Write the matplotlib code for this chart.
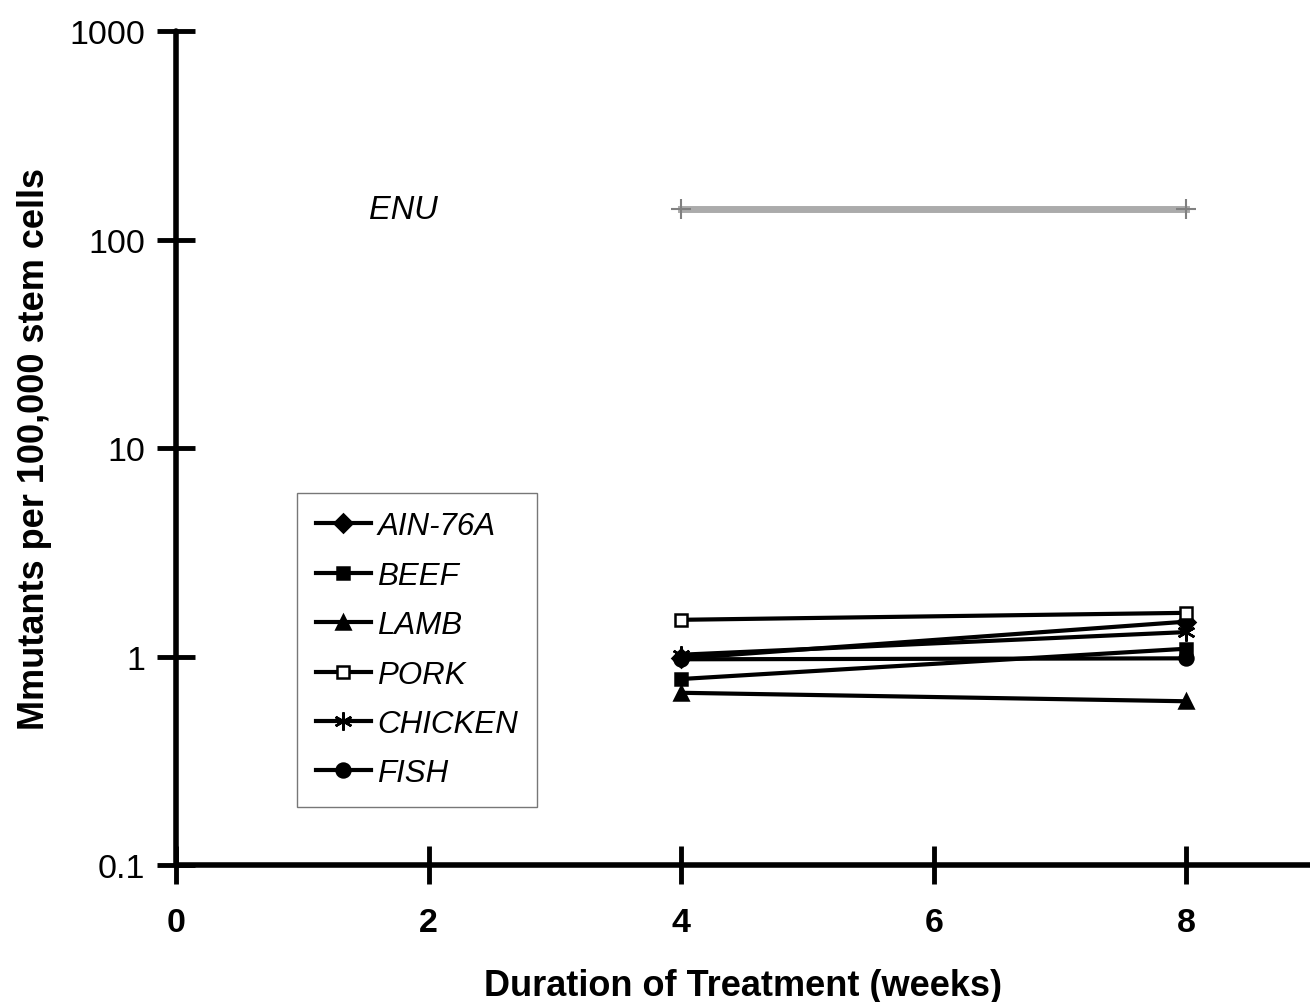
import matplotlib.pyplot as plt
import numpy as np

plt.rcParams['font.family'] = ['Liberation Sans', 'DejaVu Sans']

# Data
weeks = [4, 8]
series = ['AIN-76A', 'BEEF', 'LAMB', 'PORK', 'CHICKEN', 'FISH']
ain76a = [0.98, 1.47]
beef = [0.78, 1.09]
lamb = [0.67, 0.61]
pork = [1.50, 1.62]
chicken = [1.02, 1.31]
fish = [0.97, 0.98]
enu = [140, 140]

values = [ain76a, beef, lamb, pork, chicken, fish]
markers = ['D', 's', '^', 's', (6, 2, 0), 'o']
faces = ['black', 'black', 'black', 'white', 'black', 'black']
msizes = [9, 9, 10, 9, 13, 10]

x_ticks = [0, 2, 4, 6, 8]
y_ticks = [0.1, 1, 10, 100, 1000]
y_labels = ['0.1', '1', '10', '100', '1000']

fig = plt.figure(figsize=(13.1, 10.03), dpi=100)
ax = fig.add_axes([0.1344, 0.1366, 0.8656, 0.8314])

ax.plot(weeks, enu, color='#ababab', lw=5, marker='+', ms=14, mew=1.5,
        mec='#808080', zorder=2)

for name, vals, m, fc, ms in zip(series, values, markers, faces, msizes):
    ax.plot(weeks, vals, color='black', lw=3, marker=m, ms=ms,
            mfc=fc, mec='black', mew=1.8, label=name, zorder=3)

ax.text(1.8, 140, 'ENU', fontsize=23.5, style='italic', ha='center', va='center')

ax.set_yscale('log')
ax.set_xlim(0, 8.98)
ax.set_ylim(0.1, 1000)
ax.set_yticks(y_ticks)
ax.set_yticklabels(y_labels)
ax.yaxis.set_minor_locator(plt.NullLocator())
ax.set_xticks(x_ticks)

for s in ['top', 'right']:
    ax.spines[s].set_visible(False)
for s in ['left', 'bottom']:
    ax.spines[s].set_linewidth(4)
    ax.spines[s].set_capstyle('round')

ax.tick_params(axis='both', direction='inout', length=28, width=3.5,
               labelsize=24.5)
ax.tick_params(axis='y', pad=8.5)
ax.tick_params(axis='x', pad=16)
for lbl in ax.get_xticklabels():
    lbl.set_fontweight('bold')

ax.set_xlabel('Duration of Treatment (weeks)', fontsize=26, fontweight='bold',
              labelpad=22)
ax.set_ylabel('Mmutants per 100,000 stem cells', fontsize=26,
              fontweight='bold', labelpad=12)

leg = ax.legend(loc='lower left', bbox_to_anchor=(0.107, 0.0695),
                fontsize=22.5, handlelength=1.75, handletextpad=0.2,
                labelspacing=0.62, borderpad=0.6, borderaxespad=0,
                fancybox=False, framealpha=1, edgecolor='#777777')
leg.get_frame().set_linewidth(1)
for t in leg.get_texts():
    t.set_fontstyle('italic')

fig.savefig('out.png', dpi=100)
